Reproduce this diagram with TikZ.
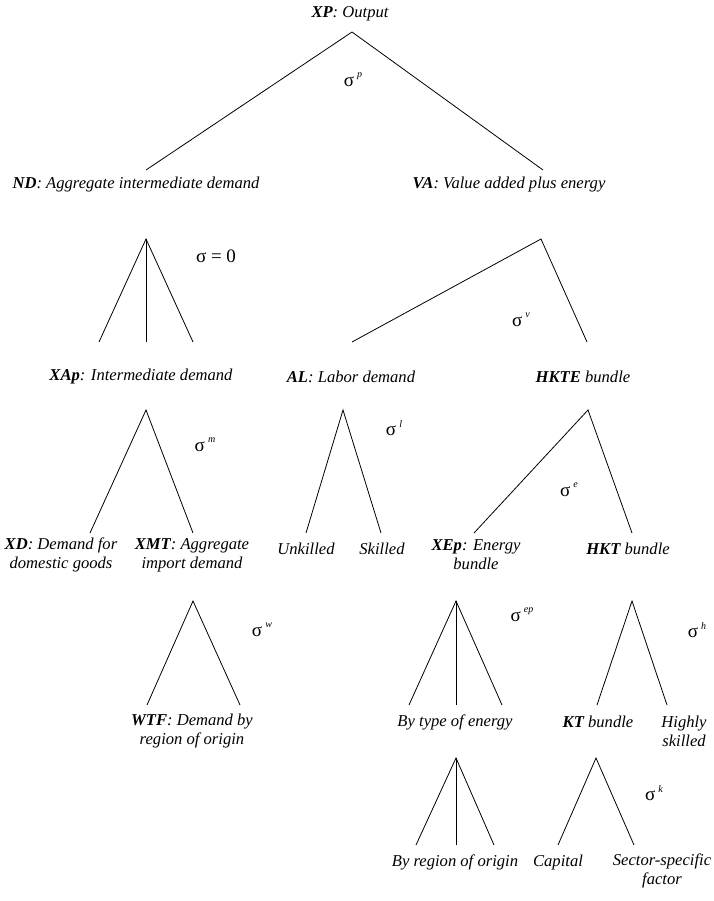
\documentclass[tikz,border=0pt]{standalone}
\usepackage{fontspec}
\setmainfont{Liberation Serif}
\usetikzlibrary{positioning}

\tikzset{
  lbl/.style={font=\itshape\fontsize{16.6}{19}\selectfont, align=center, inner sep=0pt},
  sig/.style={font=\fontsize{19}{19}\selectfont, inner sep=0pt},
  leg/.style={line width=0.8pt}
}
\newcommand{\sg}[1]{σ\,\raisebox{1.0ex}{\fontsize{10}{10}\selectfont\itshape #1}}

\begin{document}
\begin{tikzpicture}[x=1pt,y=-1pt]
                \useasboundingbox (0,0) rectangle (713,901);
                % labels
                \node[lbl] (xp) at (350,14) {\textbf{XP}: Output};
                \node[lbl] (nd) at (136,185) {\textbf{ND}: Aggregate intermediate demand};
                \node[lbl] (va) at (509,185) {\textbf{VA}: Value added plus energy};
                \node[lbl] (xap) at (141,377) {\textbf{XAp}: Intermediate demand};
                \node[lbl] (al) at (351,377) {\textbf{AL}: Labor demand};
                \node[lbl] (hkte) at (583,377) {\textbf{HKTE} bundle};
                \node[lbl] (xd) at (61,555) {\textbf{XD}: Demand for\\domestic goods};
                \node[lbl] (xmt) at (192,555) {\textbf{XMT}: Aggregate\\import demand};
                \node[lbl] (unsk) at (306,549) {Unkilled};
                \node[lbl] (sk) at (382,549) {Skilled};
                \node[lbl] (xep) at (476,555) {\textbf{XEp}: Energy\\bundle};
                \node[lbl] (hkt) at (628,549) {\textbf{HKT} bundle};
                \node[lbl] (wtf) at (192,731) {\textbf{WTF}: Demand by\\region of origin};
                \node[lbl] (bytype) at (455,722) {By type of energy};
                \node[lbl] (kt) at (598,722) {\textbf{KT} bundle};
                \node[lbl] (hs) at (684,731) {Highly\\skilled};
                \node[lbl] (byreg) at (455,862) {By region of origin};
                \node[lbl] (cap) at (558,862) {Capital};
                \node[lbl] (ssf) at (662,871) {Sector-specific\\factor};
                % elasticities
                \node[sig] (sp) at (353,80) {\sg{p}};
                \node[sig] (s0) at (216,256) {σ = 0};
                \node[sig] (sv) at (521,320) {\sg{v}};
                \node[sig] (sm) at (205,445) {\sg{m}};
                \node[sig] (sl) at (394,428) {\sg{l}};
                \node[sig] (se) at (569,490) {\sg{e}};
                \node[sig] (sw) at (262,630) {\sg{w}};
                \node[sig] (sep) at (522,615) {\sg{ep}};
                \node[sig] (sh) at (697,630) {\sg{h}};
                \node[sig] (sk2) at (654,793) {\sg{k}};
                % tree points
                \coordinate (t0) at (352,32);
                \coordinate (t0a) at (146,170);
                \coordinate (t0b) at (543,170);
                \coordinate (t1) at (146,239);
                \coordinate (t1a) at (99,342);
                \coordinate (t1b) at (146,342);
                \coordinate (t1c) at (193,342);
                \coordinate (t2) at (541,239);
                \coordinate (t2a) at (352,342);
                \coordinate (t2b) at (587,342);
                \coordinate (t3) at (146,410);
                \coordinate (t3a) at (90,533);
                \coordinate (t3b) at (193,533);
                \coordinate (t4) at (343,410);
                \coordinate (t4a) at (306,533);
                \coordinate (t4b) at (381,533);
                \coordinate (t5) at (588,410);
                \coordinate (t5a) at (474,533);
                \coordinate (t5b) at (632,533);
                \coordinate (t6) at (193,601);
                \coordinate (t6a) at (147,705);
                \coordinate (t6b) at (240,705);
                \coordinate (t7) at (456,601);
                \coordinate (t7a) at (409,705);
                \coordinate (t7b) at (456,705);
                \coordinate (t7c) at (502,705);
                \coordinate (t8) at (632,601);
                \coordinate (t8a) at (597,705);
                \coordinate (t8b) at (667,705);
                \coordinate (t9) at (456,758);
                \coordinate (t9a) at (416,845);
                \coordinate (t9b) at (456,845);
                \coordinate (t9c) at (494,845);
                \coordinate (t10) at (596,758);
                \coordinate (t10a) at (558,845);
                \coordinate (t10b) at (634,845);
                % legs
                \draw[leg] (t0a) -- (t0) -- (t0b);
                \draw[leg] (t1a) -- (t1) -- (t1c);
                \draw[leg] (t1) -- (t1b);
                \draw[leg] (t2a) -- (t2) -- (t2b);
                \draw[leg] (t3a) -- (t3) -- (t3b);
                \draw[leg] (t4a) -- (t4) -- (t4b);
                \draw[leg] (t5a) -- (t5) -- (t5b);
                \draw[leg] (t6a) -- (t6) -- (t6b);
                \draw[leg] (t7a) -- (t7) -- (t7c);
                \draw[leg] (t7) -- (t7b);
                \draw[leg] (t8a) -- (t8) -- (t8b);
                \draw[leg] (t9a) -- (t9) -- (t9c);
                \draw[leg] (t9) -- (t9b);
                \draw[leg] (t10a) -- (t10) -- (t10b);
            \end{tikzpicture}
\end{document}
